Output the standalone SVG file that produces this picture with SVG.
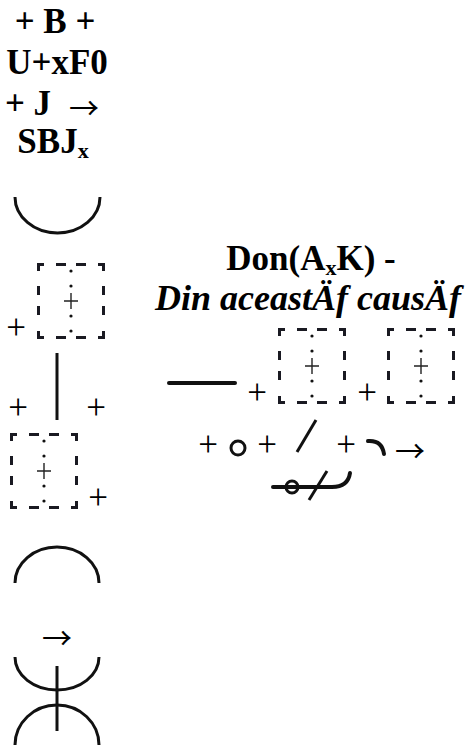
<svg xmlns="http://www.w3.org/2000/svg" width="468" height="745" viewBox="0 0 468 745">
<style>
.t{font-family:"Liberation Serif","Times New Roman",serif;font-weight:bold;font-size:35px;fill:#000;text-anchor:middle}
.ti{font-family:"Liberation Serif","Times New Roman",serif;font-weight:bold;font-style:italic;font-size:36px;fill:#000;text-anchor:middle}
.p{font-family:"Liberation Serif","Times New Roman",serif;font-size:35px;fill:#000;text-anchor:middle}
.a{font-family:"Noto Sans CJK SC","Noto Sans CJK JP",sans-serif;font-weight:normal;font-size:30px;fill:#000;text-anchor:middle}
.s{fill:none;stroke:#111;stroke-width:3;stroke-linecap:butt}
.k{fill:none;stroke:#111;stroke-width:4;stroke-linecap:round}
.d{fill:none;stroke:#1a1a22;stroke-width:3}
.c{fill:none;stroke:#222;stroke-width:1.4}
</style>
<defs>
<g id="box">
<path class="d" d="M1.5,8V1.5H7 M61,1.5H66.5V8 M1.5,68V74.5H7 M61,74.5H66.5V68 M19,1.5H29 M39,1.5H49 M19,74.5H29 M39,74.5H49 M1.5,23V32 M1.5,43V52 M66.5,23V32 M66.5,43V52"/>
<circle cx="34" cy="8" r="1.6" fill="#111"/>
<circle cx="34" cy="23" r="1.6" fill="#111"/>
<circle cx="34" cy="53" r="1.6" fill="#111"/>
<circle cx="34" cy="68" r="1.6" fill="#111"/>
<path class="c" d="M27,38H41 M34,30V46"/>
</g>
</defs>
<g id="title-left">
<text class="t" x="55" y="33">+ B +</text>
<text class="t" x="57" y="74">U+xF0</text>
<text class="t" x="28" y="115">+ J</text>
<text class="a" x="84" y="119">→</text>
<text class="t" x="53" y="153">SBJ<tspan font-size="22" dy="5">x</tspan></text>
</g>
<g id="title-right">
<text class="t" x="311" y="270" font-size="36">Don(A<tspan font-size="22" dy="5">x</tspan><tspan dy="-5">K) -</tspan></text>
<text class="ti" x="308" y="310">Din aceastÄf causÄf</text>
</g>
<g id="left-column">
<path class="s" d="M15,197 A42.5,36 0 0 0 100,197"/>
<use href="#box" x="37" y="263"/>
<text class="p" x="16" y="339">+</text>
<path class="s" d="M57,353V420"/>
<text class="p" x="18" y="419">+</text>
<text class="p" x="96" y="419">+</text>
<use href="#box" x="10" y="433"/>
<text class="p" x="98" y="509">+</text>
<path class="s" d="M15,583 A42,36 0 0 1 99,583"/>
<text class="a" x="57" y="649">→</text>
<path class="s" d="M15,657 A42,33 0 0 0 99,657"/>
<path class="s" d="M15,745 A42,40 0 0 1 99,745"/>
<path class="s" d="M57,666V731"/>
</g>
<g id="right-group">
<path class="k" d="M169,383H235" stroke-width="4.5"/>
<text class="p" x="257" y="404">+</text>
<use href="#box" x="278" y="328"/>
<text class="p" x="367" y="404">+</text>
<use href="#box" x="387" y="328"/>
<text class="p" x="208" y="456">+</text>
<circle cx="238" cy="448" r="7" fill="none" stroke="#111" stroke-width="3"/>
<text class="p" x="267" y="456">+</text>
<path class="s" d="M297,452L316,420"/>
<text class="p" x="346" y="456">+</text>
<path class="k" d="M368,441 Q382,440 384,454"/>
<text class="a" x="410" y="462">→</text>
<path class="k" d="M273,487H332 Q348,487 350,473" stroke-width="3.5"/>
<circle cx="292" cy="487" r="6" fill="none" stroke="#111" stroke-width="3"/>
<path class="s" d="M309,500L327,471"/>
</g>
</svg>
